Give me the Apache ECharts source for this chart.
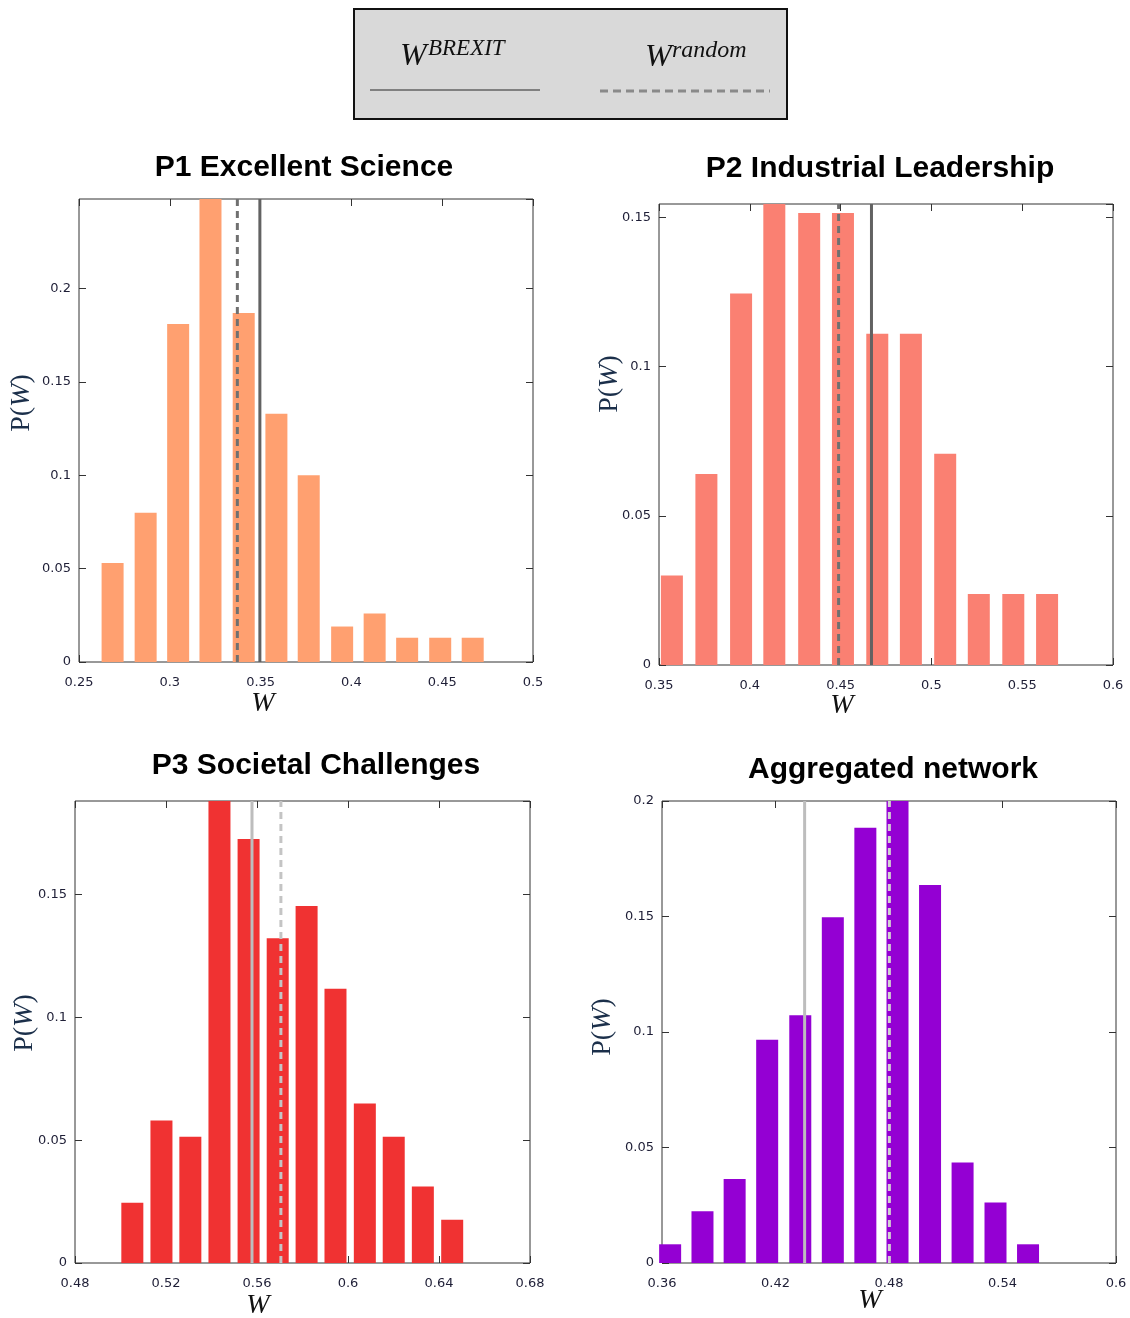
<!DOCTYPE html>
<html>
<head>
<meta charset="utf-8">
<script src="https://cdn.jsdelivr.net/npm/echarts@6/dist/echarts.min.js"></script>
<style>
html,body{margin:0;padding:0;background:#fff;}
#chart{width:1130px;height:1318px;}
</style>
</head>
<body>
<div id="chart"></div>
<script>
// ---- Data ----
const titles = ['P1 Excellent Science', 'P2 Industrial Leadership', 'P3 Societal Challenges', 'Aggregated network'];
const legendBrexitSup = 'BREXIT';
const legendRandomSup = 'random';

const p1W = [0.2685, 0.2867, 0.3046, 0.3224, 0.3407, 0.3587, 0.3765, 0.3949, 0.4128, 0.4307, 0.4489, 0.4668];
const p1P = [0.053, 0.080, 0.181, 0.250, 0.187, 0.133, 0.100, 0.019, 0.026, 0.013, 0.013, 0.013];
const p1Brexit = 0.3496, p1Random = 0.3372;

const p2W = [0.3571, 0.3761, 0.3952, 0.4135, 0.4327, 0.4513, 0.4702, 0.4887, 0.5076, 0.5261, 0.5451, 0.5637];
const p2P = [0.030, 0.064, 0.1245, 0.156, 0.1515, 0.1515, 0.111, 0.111, 0.0708, 0.0238, 0.0238, 0.0238];
const p2Brexit = 0.4670, p2Random = 0.4489;

const p3W = [0.5052, 0.5180, 0.5307, 0.5435, 0.5563, 0.5691, 0.5818, 0.5945, 0.6074, 0.6201, 0.6329, 0.6458];
const p3P = [0.0245, 0.058, 0.0514, 0.190, 0.1725, 0.1322, 0.1453, 0.1116, 0.0649, 0.0514, 0.0311, 0.0176];
const p3Brexit = 0.5578, p3Random = 0.5705;

const p4W = [0.3643, 0.3814, 0.3984, 0.4156, 0.4331, 0.4503, 0.4675, 0.4845, 0.5017, 0.5189, 0.5363, 0.5535];
const p4P = [0.0081, 0.0224, 0.0364, 0.0966, 0.1073, 0.1497, 0.1884, 0.205, 0.1636, 0.0435, 0.0262, 0.0081];
const p4Brexit = 0.4354, p4Random = 0.4802;

// axis ranges / tick steps
const xRanges = [[0.25, 0.5, 0.05], [0.35, 0.6, 0.05], [0.48, 0.68, 0.04], [0.36, 0.6, 0.06]];
const yRanges = [[0, 0.248, 0.05], [0, 0.1545, 0.05], [0, 0.188, 0.05], [0, 0.2, 0.05]];

// ---- Styling / layout ----
const panels = [
  {W: p1W, P: p1P, br: p1Brexit, rd: p1Random, color: '#FFA070', lineDark: '#626262', lineDash: '#707070',
   grid: {left: 79, top: 199, width: 454, height: 463}, title: [304, 168], yName: [22, 403], xName: [263, 704]},
  {W: p2W, P: p2P, br: p2Brexit, rd: p2Random, color: '#FA8072', lineDark: '#626262', lineDash: '#707070',
   grid: {left: 659, top: 204, width: 454, height: 461}, title: [880, 169], yName: [610, 384], xName: [842, 706]},
  {W: p3W, P: p3P, br: p3Brexit, rd: p3Random, color: '#F03232', lineDark: '#BDBDBD', lineDash: '#C4C4C4',
   grid: {left: 75, top: 801, width: 455, height: 462}, title: [316, 766], yName: [25, 1023], xName: [258, 1306]},
  {W: p4W, P: p4P, br: p4Brexit, rd: p4Random, color: '#9400D3', lineDark: '#BDBDBD', lineDash: '#D2D2D2',
   grid: {left: 662, top: 801, width: 454, height: 462}, title: [893, 770], yName: [603, 1027], xName: [870, 1301]}
];

const labelColor = '#1e1e36';
const frameColor = '#333';
const tickFont = {fontFamily: 'DejaVu Sans', fontSize: 13, color: labelColor};

const grids = [], xAxes = [], yAxes = [], series = [], graphics = [];

panels.forEach((p, i) => {
  grids.push(Object.assign({show: true, borderColor: frameColor, borderWidth: 1, backgroundColor: 'transparent', containLabel: false}, p.grid));
  const [xmin, xmax, xint] = xRanges[i];
  const [ymin, ymax, yint] = yRanges[i];
  const tick = () => ({show: true, inside: true, length: 7, lineStyle: {color: frameColor, width: 1}});
  const noLine = () => ({show: false, onZero: false});
  xAxes.push({type: 'value', gridIndex: i, position: 'bottom', min: xmin, max: xmax, interval: xint,
    axisLine: noLine(), axisTick: tick(), splitLine: {show: false},
    axisLabel: Object.assign({margin: 14}, tickFont)});
  xAxes.push({type: 'value', gridIndex: i, position: 'top', min: xmin, max: xmax, interval: xint,
    axisLine: noLine(), axisTick: tick(), splitLine: {show: false}, axisLabel: {show: false}});
  yAxes.push({type: 'value', gridIndex: i, position: 'left', min: ymin, max: ymax, interval: yint,
    axisLine: noLine(), axisTick: tick(), splitLine: {show: false},
    axisLabel: Object.assign({margin: 8, showMaxLabel: i === 3}, tickFont)});
  yAxes.push({type: 'value', gridIndex: i, position: 'right', min: ymin, max: ymax, interval: yint,
    axisLine: noLine(), axisTick: tick(), splitLine: {show: false}, axisLabel: {show: false}});

  series.push({
    type: 'bar', xAxisIndex: 2 * i, yAxisIndex: 2 * i, barWidth: 22, clip: true, silent: true,
    data: p.W.map((w, k) => [w, p.P[k]]),
    itemStyle: {color: p.color}
  });
  // vertical reference lines: W^BREXIT (solid) and W^random (dashed)
  series.push({
    type: 'line', xAxisIndex: 2 * i, yAxisIndex: 2 * i, symbol: 'none', silent: true, z: 5, clip: true,
    data: [[p.br, ymin], [p.br, ymax]],
    lineStyle: {color: p.lineDark, width: 3, type: 'solid'}
  });
  series.push({
    type: 'line', xAxisIndex: 2 * i, yAxisIndex: 2 * i, symbol: 'none', silent: true, z: 5, clip: true,
    data: [[p.rd, ymin], [p.rd, ymax]],
    lineStyle: {color: p.lineDash, width: 3, type: [7, 5]}
  });

  graphics.push({type: 'text', x: p.title[0], y: p.title[1], z: 10,
    style: {text: titles[i], font: 'bold 30px "Liberation Sans", Arial, sans-serif', fill: '#000',
      align: 'center', verticalAlign: 'middle', textAlign: 'center', textVerticalAlign: 'middle'}});
  graphics.push({type: 'text', x: p.yName[0], y: p.yName[1], rotation: Math.PI / 2, z: 10,
    style: {text: '{n|P(}{i|W}{n|)}', fill: '#1b2f4a', align: 'center', verticalAlign: 'middle',
      textAlign: 'center', textVerticalAlign: 'middle',
      rich: {n: {font: '28px "Liberation Serif", serif', fill: '#1b2f4a'},
             i: {font: 'italic 28px "Liberation Serif", serif', fill: '#1b2f4a'}}}});
  graphics.push({type: 'text', x: p.xName[0], y: p.xName[1], z: 10,
    style: {text: 'W', font: 'italic 28px "Liberation Serif", serif', fill: '#111',
      align: 'center', verticalAlign: 'middle', textAlign: 'center', textVerticalAlign: 'middle'}});
});

// legend box
graphics.push({type: 'rect', shape: {x: 354, y: 9, width: 433, height: 110}, z: 5,
  style: {fill: '#d9d9d9', stroke: '#111', lineWidth: 2}});
graphics.push({type: 'text', x: 400, y: 57, z: 6,
  style: {text: 'W', font: 'italic 32px "Liberation Serif", serif', fill: '#111', align: 'left', verticalAlign: 'middle', textAlign: 'left', textVerticalAlign: 'middle'}});
graphics.push({type: 'text', x: 428, y: 49, z: 6,
  style: {text: legendBrexitSup, font: 'italic 23px "Liberation Serif", serif', fill: '#111', align: 'left', verticalAlign: 'middle', textAlign: 'left', textVerticalAlign: 'middle'}});
graphics.push({type: 'line', shape: {x1: 370, y1: 90, x2: 540, y2: 90}, z: 6,
  style: {stroke: '#808080', lineWidth: 2}});
graphics.push({type: 'text', x: 645, y: 58, z: 6,
  style: {text: 'W', font: 'italic 32px "Liberation Serif", serif', fill: '#111', align: 'left', verticalAlign: 'middle', textAlign: 'left', textVerticalAlign: 'middle'}});
graphics.push({type: 'text', x: 672, y: 51, z: 6,
  style: {text: legendRandomSup, font: 'italic 24px "Liberation Serif", serif', fill: '#111', align: 'left', verticalAlign: 'middle', textAlign: 'left', textVerticalAlign: 'middle'}});
graphics.push({type: 'line', shape: {x1: 600, y1: 91, x2: 770, y2: 91}, z: 6,
  style: {stroke: '#8a8a8a', lineWidth: 3, lineDash: [8, 5]}});

const chart = echarts.init(document.getElementById('chart'), null, {renderer: 'canvas'});
chart.setOption({
  animation: false,
  backgroundColor: '#fff',
  grid: grids, xAxis: xAxes, yAxis: yAxes, series: series, graphic: graphics
});
</script>
</body>
</html>
